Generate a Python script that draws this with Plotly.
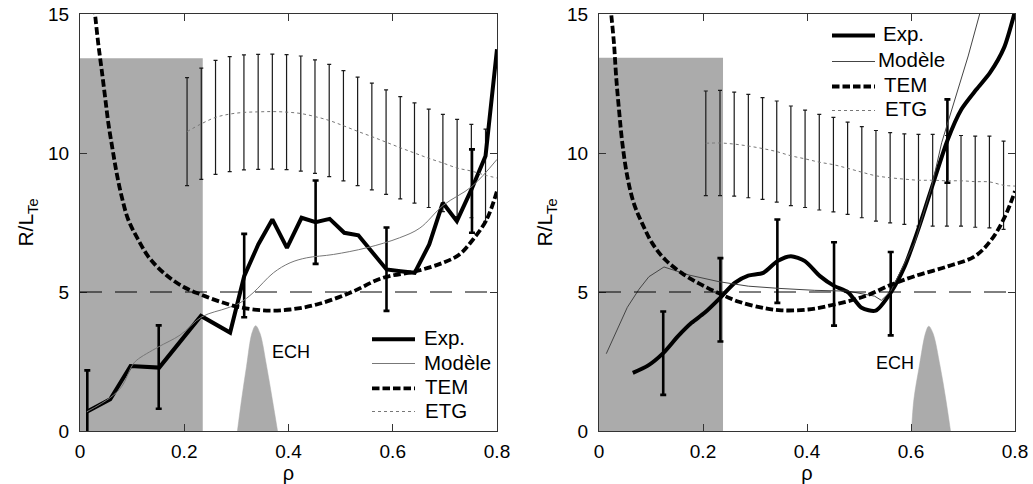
import plotly.graph_objects as go

# ---------------- data: left panel ----------------
exp_l_rho = [0.013, 0.058, 0.097, 0.152, 0.232, 0.288, 0.315, 0.342, 0.369, 0.397, 0.425,
             0.452, 0.479, 0.507, 0.534, 0.561, 0.588, 0.615, 0.642, 0.670, 0.696, 0.723,
             0.751, 0.778, 0.800]
exp_l_val = [0.69, 1.14, 2.34, 2.28, 4.14, 3.54, 5.57, 6.71, 7.61, 6.59, 7.67,
             7.51, 7.63, 7.13, 7.04, 6.41, 5.81, 5.75, 5.69, 6.71, 8.21, 7.55,
             8.69, 9.89, 13.73]
exp_l_bar_rho = [0.014, 0.151, 0.315, 0.452, 0.588, 0.752]
exp_l_bar_val = [0.68, 2.30, 5.59, 7.51, 5.82, 8.63]
exp_l_bar_err = [1.5, 1.5, 1.5, 1.5, 1.5, 1.5]

mod_l_rho = [0.013, 0.058, 0.080, 0.100, 0.109, 0.150, 0.192, 0.234, 0.282, 0.307, 0.332,
             0.371, 0.403, 0.435, 0.486, 0.550, 0.613, 0.652, 0.697, 0.752, 0.800]
mod_l_val = [0.69, 1.20, 1.60, 2.35, 2.55, 3.02, 3.45, 4.11, 4.42, 4.61, 4.97,
             5.69, 6.05, 6.23, 6.35, 6.59, 6.95, 7.30, 8.12, 8.80, 9.77]

tem_l_rho = [0.025, 0.029, 0.035, 0.0416, 0.048, 0.0544, 0.0627, 0.0704, 0.080, 0.0928, 0.112,
             0.134, 0.166, 0.198, 0.230, 0.269, 0.307, 0.358, 0.403, 0.454, 0.518, 0.581,
             0.645, 0.696, 0.728, 0.754, 0.780, 0.800]
tem_l_val = [15.65, 14.96, 13.94, 12.99, 12.03, 11.07, 10.11, 9.27, 8.43, 7.59, 6.87,
             6.20, 5.60, 5.19, 4.92, 4.65, 4.45, 4.33, 4.37, 4.55, 4.97, 5.51,
             5.75, 6.05, 6.35, 6.89, 7.60, 8.63]

etg_grid = [0.2054, 0.2327, 0.2600, 0.2872, 0.3145, 0.3418, 0.3690, 0.3963, 0.4236, 0.4508, 0.4781,
            0.5054, 0.5326, 0.5599, 0.5872, 0.6144, 0.6417, 0.6690, 0.6962, 0.7235, 0.7508, 0.7780]
etg_l_val = [10.77, 11.05, 11.28, 11.40, 11.46, 11.48, 11.49, 11.47, 11.42, 11.31, 11.17,
             10.98, 10.78, 10.59, 10.39, 10.19, 10.00, 9.81, 9.64, 9.46, 9.35, 9.20]
etg_l_err = [1.94, 2.00, 2.05, 2.07, 2.07, 2.07, 2.07, 2.07, 2.07, 2.04, 2.02,
             1.98, 1.95, 1.92, 1.88, 1.84, 1.80, 1.77, 1.75, 1.75, 1.68, 1.66]
etg_l_end = 9.10

ech_l_rho = [0.302, 0.310, 0.3195, 0.330, 0.337, 0.345, 0.358, 0.369, 0.379]
ech_l_val = [0.0, 1.13, 2.33, 3.53, 3.79, 3.53, 2.33, 1.13, 0.0]
core_l = (0.0, 0.2355, 13.41)   # shaded zone: rho from, rho to, height

# ---------------- data: right panel ----------------
exp_r_rho = [0.065, 0.094, 0.1235, 0.152, 0.178, 0.203, 0.2335, 0.261, 0.287, 0.316, 0.343,
             0.369, 0.396, 0.425, 0.452, 0.479, 0.505, 0.532, 0.561, 0.588, 0.616, 0.643,
             0.670, 0.697, 0.726, 0.752, 0.779, 0.800]
exp_r_val = [2.09, 2.35, 2.80, 3.41, 3.89, 4.25, 4.80, 5.33, 5.59, 5.69, 6.11,
             6.29, 6.11, 5.57, 5.22, 4.99, 4.43, 4.33, 4.98, 5.93, 7.37, 8.93,
             10.45, 11.57, 12.29, 12.89, 13.79, 15.10]
exp_r_bar_rho = [0.1235, 0.2335, 0.343, 0.452, 0.561, 0.670]
exp_r_bar_val = [2.80, 4.72, 6.11, 5.29, 4.94, 10.43]
exp_r_bar_err = [1.5, 1.5, 1.5, 1.5, 1.5, 1.5]

mod_r_rho = [0.014, 0.043, 0.0545, 0.077, 0.096, 0.125, 0.173, 0.231, 0.287, 0.346, 0.415,
             0.479, 0.530, 0.543, 0.561, 0.607, 0.640, 0.659, 0.684, 0.710, 0.735]
mod_r_val = [2.78, 4.00, 4.45, 5.10, 5.55, 5.90, 5.61, 5.37, 5.21, 5.13, 5.06,
             5.03, 4.85, 4.70, 5.03, 6.77, 8.81, 10.37, 11.93, 13.49, 15.20]

tem_r_rho = [0.020, 0.0237, 0.0288, 0.033, 0.0385, 0.0449, 0.0545, 0.067, 0.083, 0.1026, 0.128,
             0.160, 0.192, 0.231, 0.269, 0.320, 0.351, 0.402, 0.453, 0.511, 0.563, 0.607,
             0.672, 0.723, 0.755, 0.781, 0.800]
tem_r_val = [15.70, 14.96, 13.94, 12.74, 11.55, 10.35, 9.15, 8.19, 7.47, 6.75, 6.15,
             5.67, 5.31, 4.95, 4.65, 4.41, 4.34, 4.37, 4.55, 4.85, 5.27, 5.57,
             5.93, 6.29, 6.89, 7.73, 8.63]

etg_r_val = [10.35, 10.36, 10.32, 10.25, 10.16, 10.05, 9.90, 9.79, 9.67, 9.58, 9.45,
             9.31, 9.18, 9.11, 9.06, 9.02, 9.02, 9.00, 9.00, 8.97, 8.96, 8.84]
etg_r_err = [1.88, 1.89, 1.87, 1.86, 1.83, 1.82, 1.79, 1.75, 1.72, 1.70, 1.66,
             1.64, 1.63, 1.62, 1.63, 1.65, 1.65, 1.63, 1.63, 1.64, 1.65, 1.59]
etg_r_end = 8.81

ech_r_rho = [0.601, 0.6055, 0.616, 0.628, 0.634, 0.642, 0.656, 0.667, 0.676]
ech_r_val = [0.0, 1.13, 2.33, 3.53, 3.77, 3.53, 2.33, 1.13, 0.0]
core_r = (0.0, 0.2385, 13.43)

threshold = 5.0
x_ticks = [0, 0.2, 0.4, 0.6, 0.8]
y_ticks = [0, 5, 10, 15]
legend_labels = ["Exp.", "Modèle", "TEM", "ETG"]

# ---------------- styles ----------------
W, H = 1033, 484
FONT = "Liberation Sans, Arial, sans-serif"
GREY_FILL = "#ababab"


def panel_styles(model_color):
    return [
        dict(color="black", width=4),                      # Exp.
        dict(color=model_color, width=1),                  # Modèle
        dict(color="black", width=3.8, dash="7.5px,3px"),  # TEM
        dict(color="#777777", width=1, dash="3px,3px"),    # ETG
    ]


STYLES_L = panel_styles("#777777")
STYLES_R = panel_styles("#444444")

fig = go.Figure()


def add_panel(xa, ya, styles, exp_rho, exp_val, exp_shape, bar_rho, bar_val, bar_err,
              mod_rho, mod_val, mod_shape, tem_rho, tem_val, etg_val, etg_err, etg_end,
              ech_rho, ech_val):
    # ECH deposition profile
    fig.add_trace(go.Scatter(x=ech_rho, y=ech_val, mode="lines", fill="tozeroy",
                             fillcolor=GREY_FILL, line=dict(color=GREY_FILL, width=0.5, shape="spline"),
                             showlegend=False, xaxis=xa, yaxis=ya, hoverinfo="skip"))
    # ETG error bars
    fig.add_trace(go.Scatter(x=etg_grid, y=etg_val, mode="markers", marker=dict(size=1, opacity=0),
                             error_y=dict(type="data", array=etg_err, thickness=1.2, width=2,
                                          color="#1a1a1a"),
                             showlegend=False, xaxis=xa, yaxis=ya))
    # experimental error bars
    fig.add_trace(go.Scatter(x=bar_rho, y=bar_val, mode="markers", marker=dict(size=1, opacity=0),
                             error_y=dict(type="data", array=bar_err, thickness=2.6, width=3,
                                          color="black"),
                             showlegend=False, xaxis=xa, yaxis=ya))
    fig.add_trace(go.Scatter(x=exp_rho, y=exp_val, mode="lines", name=legend_labels[0],
                             line=dict(shape=exp_shape, smoothing=0.7, **styles[0]),
                             showlegend=False, xaxis=xa, yaxis=ya))
    fig.add_trace(go.Scatter(x=mod_rho, y=mod_val, mode="lines", name=legend_labels[1],
                             line=dict(shape=mod_shape, **styles[1]),
                             showlegend=False, xaxis=xa, yaxis=ya))
    fig.add_trace(go.Scatter(x=tem_rho, y=tem_val, mode="lines", name=legend_labels[2],
                             line=dict(shape="spline", **styles[2]),
                             showlegend=False, xaxis=xa, yaxis=ya))
    fig.add_trace(go.Scatter(x=etg_grid + [0.8], y=etg_val + [etg_end], mode="lines",
                             name=legend_labels[3], line=dict(shape="spline", **styles[3]),
                             showlegend=False, xaxis=xa, yaxis=ya))


add_panel("x", "y", STYLES_L, exp_l_rho, exp_l_val, "linear", exp_l_bar_rho, exp_l_bar_val,
          exp_l_bar_err, mod_l_rho, mod_l_val, "spline", tem_l_rho, tem_l_val,
          etg_l_val, etg_l_err, etg_l_end, ech_l_rho, ech_l_val)
add_panel("x2", "y2", STYLES_R, exp_r_rho, exp_r_val, "spline", exp_r_bar_rho, exp_r_bar_val,
          exp_r_bar_err, mod_r_rho, mod_r_val, "linear", tem_r_rho, tem_r_val,
          etg_r_val, etg_r_err, etg_r_end, ech_r_rho, ech_r_val)

# shaded zones and the reference level
for (xref, yref, core) in (("x", "y", core_l), ("x2", "y2", core_r)):
    fig.add_shape(type="rect", xref=xref, yref=yref, x0=core[0], x1=core[1], y0=0, y1=core[2],
                  fillcolor=GREY_FILL, line=dict(width=0), layer="below")
    fig.add_shape(type="line", xref=f"{xref} domain", yref=yref, x0=0, x1=1,
                  y0=threshold, y1=threshold, line=dict(color="black", width=1, dash="22px,13px"),
                  layer="above")

fig.add_annotation(x=0.365, y=2.84, xref="x", yref="y", text="ECH", showarrow=False,
                   xanchor="left", font=dict(size=18, family=FONT, color="black"))
fig.add_annotation(x=0.529, y=2.45, xref="x2", yref="y2", text="ECH", showarrow=False,
                   xanchor="left", font=dict(size=18, family=FONT, color="black"))


# legend boxes: key line + label, one row per series
def add_key(styles, line_x0, line_x1, text_x, rows_y):
    for i, label in enumerate(legend_labels):
        y = 1 - rows_y[i] / H
        fig.add_shape(type="line", xref="paper", yref="paper", x0=line_x0 / W, x1=line_x1 / W,
                      y0=y, y1=y, line=styles[i])
        fig.add_annotation(x=text_x[i] / W, y=y + 1.5 / H, xref="paper",
                           yref="paper", text=label, showarrow=False, xanchor="left",
                           yanchor="middle", font=dict(size=20.5, family=FONT, color="black"))


add_key(STYLES_L, 372, 415, [421.5, 422, 422.5, 422.5], [339.3, 363.5, 388.3, 411.5])
add_key(STYLES_R, 832, 875, [881, 876, 882, 883], [35.5, 61.5, 86.5, 110.5])

axis_common = dict(range=[0, 0.8], tickvals=x_ticks, ticks="inside", ticklen=7, tickwidth=1,
                   tickcolor="#333333", showline=True, linecolor="#333333", linewidth=1.2,
                   mirror="allticks", showgrid=False, zeroline=False, ticklabelstandoff=3,
                   automargin=False,
                   tickfont=dict(size=19, family=FONT, color="black"),
                   title=dict(text="ρ", font=dict(size=20, family=FONT, color="black"), standoff=6))
yaxis_common = dict(range=[0, 15], tickvals=y_ticks, ticks="inside", ticklen=7, tickwidth=1,
                    tickcolor="#333333", showline=True, linecolor="#333333", linewidth=1.2,
                    mirror="allticks", showgrid=False, zeroline=False, ticklabelstandoff=6,
                    automargin=False,
                    tickfont=dict(size=19, family=FONT, color="black"),
                    title=dict(text="R/L<sub>Te</sub>", font=dict(size=21, family=FONT, color="black"),
                               standoff=8))

fig.update_layout(
    width=W, height=H, margin=dict(l=0, r=0, t=0, b=0, autoexpand=False),
    paper_bgcolor="white", plot_bgcolor="white", showlegend=False,
    font=dict(family=FONT, color="black"),
    xaxis=dict(domain=[80 / W, 497 / W], anchor="y", **axis_common),
    yaxis=dict(domain=[53 / H, 470 / H], anchor="x", **yaxis_common),
    xaxis2=dict(domain=[599 / W, 1015 / W], anchor="y2", **axis_common),
    yaxis2=dict(domain=[53 / H, 470 / H], anchor="x2", **yaxis_common),
)

fig.write_html("out.html")
